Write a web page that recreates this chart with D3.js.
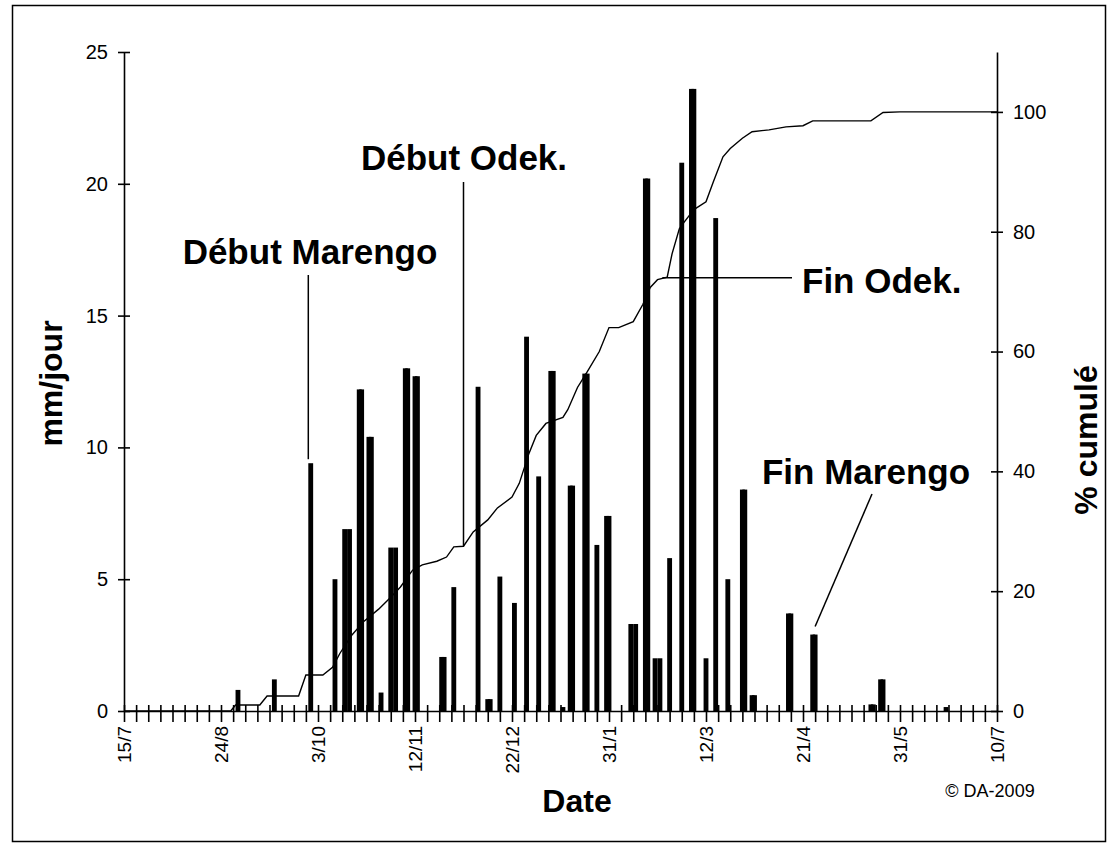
<!DOCTYPE html>
<html>
<head>
<meta charset="utf-8">
<script src="https://cdn.jsdelivr.net/npm/d3@7"></script>
<style>
  html, body { margin: 0; padding: 0; background: #fff; }
  svg { display: block; font-family: "Liberation Sans", Arial, sans-serif; }
</style>
</head>
<body>
<svg id="chart" width="1109" height="845"></svg>
<script>
// Daily rainfall (mm/jour) on rain days
const rainDates = [
  "2008-08-31", "2008-09-15", "2008-09-30", "2008-10-10",
  "2008-10-14", "2008-10-16", "2008-10-20", "2008-10-21",
  "2008-10-24", "2008-10-25", "2008-10-29", "2008-11-02",
  "2008-11-04", "2008-11-08", "2008-11-09", "2008-11-12",
  "2008-11-13", "2008-11-23", "2008-11-24", "2008-11-28",
  "2008-12-08", "2008-12-12", "2008-12-13", "2008-12-17",
  "2008-12-23", "2008-12-28", "2009-01-02", "2009-01-07",
  "2009-01-08", "2009-01-12", "2009-01-15", "2009-01-16",
  "2009-01-21", "2009-01-22", "2009-01-26", "2009-01-30",
  "2009-01-31", "2009-02-09", "2009-02-11", "2009-02-15",
  "2009-02-16", "2009-02-19", "2009-02-21", "2009-02-25",
  "2009-03-02", "2009-03-06", "2009-03-07", "2009-03-12",
  "2009-03-16", "2009-03-21", "2009-03-27", "2009-03-28",
  "2009-03-31", "2009-04-01", "2009-04-15", "2009-04-16",
  "2009-04-25", "2009-04-26", "2009-05-19", "2009-05-20",
  "2009-05-23", "2009-05-24", "2009-06-19"
];
const rainValues = [
  0.8, 1.2, 9.4, 5.0,
  6.9, 6.9, 12.2, 12.2,
  10.4, 10.4, 0.7, 6.2,
  6.2, 13.0, 13.0, 12.7,
  12.7, 2.05, 2.05, 4.7,
  12.3, 0.45, 0.45, 5.1,
  4.1, 14.2, 8.9, 12.9,
  12.9, 0.15, 8.55, 8.55,
  12.8, 12.8, 6.3, 7.4,
  7.4, 3.3, 3.3, 20.2,
  20.2, 2.0, 2.0, 5.8,
  20.8, 23.6, 23.6, 2.0,
  18.7, 5.0, 8.4, 8.4,
  0.6, 0.6, 3.7, 3.7,
  2.9, 2.9, 0.25, 0.25,
  1.2, 1.2, 0.15
];

// Cumulative percentage curve (% cumulé)
const cumDates = [
  "2008-07-15", "2008-08-28", "2008-08-30", "2008-09-09", "2008-09-12",
  "2008-09-25", "2008-09-28", "2008-10-05", "2008-10-09", "2008-10-12",
  "2008-10-17", "2008-10-22", "2008-10-28", "2008-11-02", "2008-11-06",
  "2008-11-11", "2008-11-15", "2008-11-21", "2008-11-25", "2008-11-28",
  "2008-12-02", "2008-12-06", "2008-12-12", "2008-12-16", "2008-12-22",
  "2008-12-25", "2008-12-29", "2009-01-01", "2009-01-05", "2009-01-12",
  "2009-01-14", "2009-01-18", "2009-01-22", "2009-01-27", "2009-01-31",
  "2009-02-04", "2009-02-10", "2009-02-14", "2009-02-17", "2009-02-20",
  "2009-02-24", "2009-02-26", "2009-03-01", "2009-03-03", "2009-03-07",
  "2009-03-12", "2009-03-15", "2009-03-19", "2009-03-22", "2009-03-27",
  "2009-03-31", "2009-04-07", "2009-04-14", "2009-04-21", "2009-04-25",
  "2009-05-19", "2009-05-24", "2009-05-31", "2009-07-10"
];
const cumValues = [
  0, 0, 1.0, 1.0, 2.5,
  2.5, 6.0, 6.0, 7.3, 9.6,
  12.7, 15.0, 17.0, 19.0, 20.7,
  23.5, 24.4, 25.0, 25.7, 27.4,
  27.5, 29.9, 31.9, 33.9, 35.7,
  38.0, 43.0, 46.0, 48.0, 49.0,
  50.3, 54.0, 56.6, 60.0, 64.0,
  64.0, 65.0, 67.9, 70.7, 72.0,
  72.4, 76.3, 80.5, 81.6, 83.7,
  85.0, 88.3, 92.5, 93.9, 95.6,
  96.7, 97.0, 97.5, 97.7, 98.5,
  98.5, 99.9, 100, 100
];

// Axis ticks
const xLabelDates = ["2008-07-15", "2008-08-24", "2008-10-03", "2008-11-12", "2008-12-22",
                     "2009-01-31", "2009-03-12", "2009-04-21", "2009-05-31", "2009-07-10"];
const yLeftTicks = [0, 5, 10, 15, 20, 25];
const yRightTicks = [0, 20, 40, 60, 80, 100];

// Event annotations
const eventNames = ["Début Marengo", "Début Odek.", "Fin Odek.", "Fin Marengo"];
const eventDates = ["2008-09-29", "2008-12-02", "2009-02-22", "2009-04-26"];

const parse = d3.utcParse("%Y-%m-%d");
const fmt = d3.utcFormat("%-d/%-m");

const svg = d3.select("#chart");
const FONT = "'Liberation Sans', Arial, sans-serif";

const m = { left: 124, right: 997, top: 52, bottom: 711 };

const x = d3.scaleUtc()
  .domain([parse("2008-07-15"), parse("2009-07-10")])
  .range([m.left, m.right]);
const y = d3.scaleLinear().domain([0, 25]).range([m.bottom, m.top]);
const yPct = d3.scaleLinear().domain([0, 110]).range([m.bottom, m.top]);

// outer frame
svg.append("rect")
  .attr("x", 12.5).attr("y", 5.5)
  .attr("width", 1093).attr("height", 836)
  .attr("fill", "none").attr("stroke", "#000").attr("stroke-width", 1.5);

// bars
const rain = rainDates.map((d, i) => ({ date: parse(d), v: rainValues[i] }));
svg.append("g").selectAll("rect").data(rain).join("rect")
  .attr("x", d => x(d3.utcDay.offset(d.date, -1)))
  .attr("width", d => x(d3.utcDay.offset(d.date, 1)) - x(d3.utcDay.offset(d.date, -1)))
  .attr("y", d => y(d.v))
  .attr("height", d => y(0) - y(d.v))
  .attr("fill", "#000");

// cumulative line
const cum = cumDates.map((d, i) => ({ date: parse(d), v: cumValues[i] }));
svg.append("path")
  .datum(cum)
  .attr("fill", "none").attr("stroke", "#000").attr("stroke-width", 1.4)
  .attr("d", d3.line().x(d => x(d.date)).y(d => yPct(d.v)));

// left axis
const gL = svg.append("g").attr("transform", `translate(${m.left},0)`);
gL.call(d3.axisLeft(y).tickValues(yLeftTicks).tickSize(0).tickPadding(16));
gL.select(".domain").attr("stroke", "#000").attr("stroke-width", 1.6);
gL.selectAll(".tick").append("line")
  .attr("x1", -6).attr("x2", 6).attr("stroke", "#000").attr("stroke-width", 1.6);
gL.selectAll(".tick text").attr("font-size", 20).attr("font-family", FONT).attr("fill", "#000");

// right axis
const gR = svg.append("g").attr("transform", `translate(${m.right},0)`);
gR.call(d3.axisRight(yPct).tickValues(yRightTicks).tickSize(0).tickPadding(16));
gR.select(".domain").attr("stroke", "#000").attr("stroke-width", 1.6);
gR.selectAll(".tick").append("line")
  .attr("x1", -6).attr("x2", 6).attr("stroke", "#000").attr("stroke-width", 1.6);
gR.selectAll(".tick text").attr("font-size", 20).attr("font-family", FONT).attr("fill", "#000");

// bottom axis: minor ticks every 5 days, labels every 40 days
const minorTicks = d3.range(0, 361, 5).map(k => d3.utcDay.offset(parse("2008-07-15"), k));
const gB = svg.append("g").attr("transform", `translate(0,${m.bottom})`);
gB.call(d3.axisBottom(x).tickValues(minorTicks).tickSize(0).tickFormat(""));
gB.select(".domain").attr("stroke", "#000").attr("stroke-width", 1.6);
gB.selectAll(".tick").append("line")
  .attr("y1", -6).attr("y2", 11).attr("stroke", "#000").attr("stroke-width", 1.6);

svg.append("g").selectAll("text").data(xLabelDates.map(parse)).join("text")
  .attr("transform", d => `translate(${x(d)},${m.bottom + 15}) rotate(-90)`)
  .attr("text-anchor", "end").attr("dy", "0.35em")
  .attr("font-size", 19).attr("font-family", FONT)
  .text(d => fmt(d));

// axis titles
svg.append("text")
  .attr("transform", `translate(62,${(m.top + m.bottom) / 2 + 2}) rotate(-90)`)
  .attr("text-anchor", "middle").attr("font-size", 32).attr("font-weight", "bold")
  .attr("font-family", FONT).text("mm/jour");
svg.append("text")
  .attr("transform", `translate(1097,440) rotate(-90)`)
  .attr("text-anchor", "middle").attr("font-size", 32).attr("font-weight", "bold")
  .attr("font-family", FONT).text("% cumulé");
svg.append("text")
  .attr("x", 577).attr("y", 812)
  .attr("text-anchor", "middle").attr("font-size", 32).attr("font-weight", "bold")
  .attr("font-family", FONT).text("Date");
svg.append("text")
  .attr("x", 990).attr("y", 797)
  .attr("text-anchor", "middle").attr("font-size", 18)
  .attr("font-family", FONT).text("© DA-2009");

// event annotations
const ev = eventDates.map(parse);
const cumAt = d => {
  const i = d3.bisector(c => c.date).left(cum, d);
  const a = cum[Math.max(0, i - 1)], b = cum[Math.min(cum.length - 1, i)];
  if (a === b) return a.v;
  const t = (d - a.date) / (b.date - a.date);
  return a.v + t * (b.v - a.v);
};
const rainAt = d => {
  const r = rain.find(r => +r.date === +d);
  return r ? r.v : 0;
};
const ann = svg.append("g").attr("stroke", "#000").attr("stroke-width", 1.5);

// Début Marengo
ann.append("line")
  .attr("x1", x(ev[0])).attr("x2", x(ev[0]))
  .attr("y1", 275).attr("y2", y(9.4) - 4);
// Début Odek.
ann.append("line")
  .attr("x1", x(ev[1])).attr("x2", x(ev[1]))
  .attr("y1", 182).attr("y2", yPct(cumAt(ev[1])));
// Fin Odek.
ann.append("line")
  .attr("x1", x(ev[2])).attr("x2", 792)
  .attr("y1", yPct(72.3)).attr("y2", yPct(72.3));
// Fin Marengo
ann.append("line")
  .attr("x1", x(ev[3]) ).attr("x2", 872)
  .attr("y1", y(rainAt(ev[3])) - 8).attr("y2", 494);

const annText = [
  { name: eventNames[0], x: 310, y: 264, anchor: "middle" },
  { name: eventNames[1], x: 464, y: 170, anchor: "middle" },
  { name: eventNames[2], x: 802, y: 293, anchor: "start" },
  { name: eventNames[3], x: 866, y: 484, anchor: "middle" }
];
svg.append("g").selectAll("text").data(annText).join("text")
  .attr("x", d => d.x).attr("y", d => d.y)
  .attr("text-anchor", d => d.anchor)
  .attr("font-size", 35).attr("font-weight", "bold").attr("font-family", FONT)
  .text(d => d.name);
</script>
</body>
</html>
